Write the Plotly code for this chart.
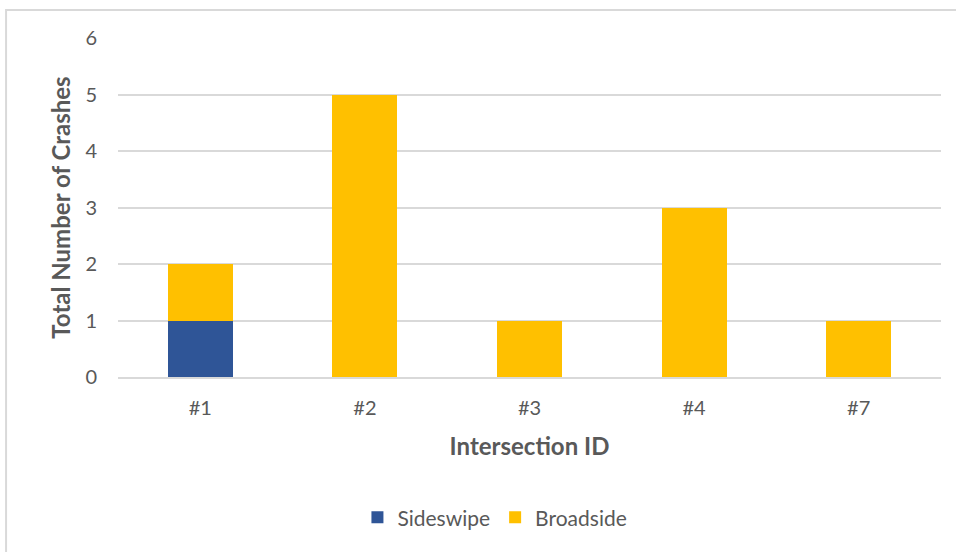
import plotly.graph_objects as go

# Crash counts by intersection, split by collision type
intersections = ["#1", "#2", "#3", "#4", "#7"]
sideswipe = [1, 0, 0, 0, 0]
broadside = [1, 5, 1, 3, 1]
y_ticks = [0, 1, 2, 3, 4, 5, 6]

GRID = "#D9D9D9"
TEXT = "#595959"
FONT = "Lato"

fig = go.Figure()
fig.add_trace(go.Bar(name="Sideswipe", x=intersections, y=sideswipe,
                     marker=dict(color="#2F5597", line=dict(width=0))))
fig.add_trace(go.Bar(name="Broadside", x=intersections, y=broadside,
                     marker=dict(color="#FFC000", line=dict(width=0))))

fig.update_layout(
    barmode="stack",
    bargap=0.605,
    width=956, height=552,
    margin=dict(l=118, r=15, t=38, b=175),
    paper_bgcolor="white", plot_bgcolor="white",
    font=dict(family=FONT, color=TEXT, size=20),
    showlegend=True,
    legend=dict(orientation="h", x=0.458, xanchor="center", y=-0.415, yanchor="middle",
                font=dict(size=21, color=TEXT), itemwidth=30, traceorder="normal"),
    xaxis=dict(
        showgrid=False, showline=True, linecolor=GRID, linewidth=2,
        ticks="", ticklabelstandoff=12, tickfont=dict(size=20, color=TEXT),
        title=dict(text="<b>Intersection ID</b>", font=dict(size=24, color=TEXT), standoff=20),
    ),
    yaxis=dict(
        range=[0, 6], tickvals=y_ticks, showgrid=True, gridcolor=GRID, gridwidth=2,
        zeroline=False, showline=False, ticks="", ticklabelstandoff=20,
        tickfont=dict(size=20, color=TEXT),
        title=dict(text="<b>Total Number of Crashes</b>", font=dict(size=24, color=TEXT), standoff=7),
    ),
    shapes=[dict(type="rect", xref="paper", yref="paper",
                 x0=-0.136, x1=1.2, y0=-1.0, y1=1.0826,
                 line=dict(color=GRID, width=2), layer="below")],
)

fig.write_html("out.html")
